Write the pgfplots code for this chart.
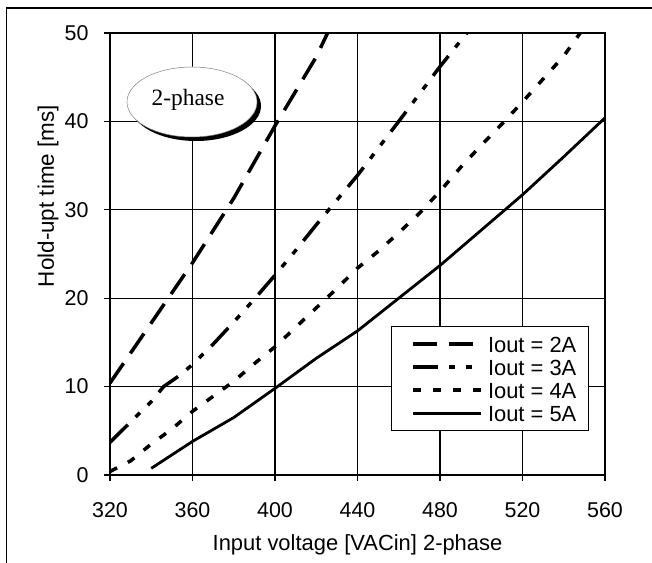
\documentclass[border=0pt]{standalone}
\usepackage{fontspec}
\setmainfont{Liberation Sans}
\newfontfamily\serifF{Liberation Serif}
\usepackage{pgfplots}
\pgfplotsset{compat=1.18}
\begin{document}
\begin{tikzpicture}[x=1bp,y=1bp]
\useasboundingbox (0,0) rectangle (652,563);
\draw[line width=1.3bp] (6.5,-5) -- (6.5,555) -- (660,555);
\begin{axis}[
 at={(110bp,88bp)}, anchor=south west,
 scale only axis, width=495bp, height=442bp,
 xmin=320, xmax=560, ymin=0, ymax=50,
 xtick={320,360,...,560}, ytick={0,10,...,50},
 grid=major, grid style={black, line width=1.2bp},
 axis line style={line width=1.7bp},
 tick align=outside, major tick length=6bp, tick pos=left,
 tick style={black, line width=1.3bp},
 /pgf/number format/assume math mode=true,
 /pgf/number format/1000 sep={},
 ticklabel style={font=\fontsize{21.5}{24}\selectfont},
 xticklabel style={yshift=-18bp},
 yticklabel style={xshift=-12bp},
 xlabel={Input voltage [VACin] 2-phase},
 ylabel={Hold-upt time [ms]},
 label style={font=\fontsize{22}{26}\selectfont},
 xlabel style={at={(axis description cs:0.5,-0.158)}, anchor=center},
 ylabel style={at={(axis description cs:-0.125,0.631)}, anchor=center, font=\fontsize{22.5}{26}\selectfont},
 legend image code/.code={\path (0bp,0bp) (81bp,0bp); \draw[#1] (8bp,0bp) -- (76bp,0bp);},
 legend style={at={(rel axis cs:0.9677,0.3371)}, anchor=north east,
   draw=black, line width=1.3bp, fill=white,
   inner xsep=12bp, inner ysep=9.5bp, row sep=7bp,
   font=\fontsize{22}{24}\selectfont,
   nodes={inner xsep=0bp, inner ysep=0bp, text height=16bp, text depth=0bp}},
 legend cell align=left,
]
\addplot[black, line width=3.5bp, dash pattern=on 24bp off 12bp] coordinates {
 (320,10.4) (340,17.2) (360,24) (380,31.3) (400,39.5) (420,47.3) (425.5,50)};
\addlegendentry{Iout = 2A}
\addplot[black, line width=3.5bp, dash pattern=on 25bp off 11bp on 6bp off 11bp on 6bp off 11bp] coordinates {
 (320,3.7) (330,6.0) (340,8.3) (346,10) (354,11.3) (360,12.5) (370,14.8) (380,17.3)
 (390,19.9) (400,22.6) (410,25.4) (420,28.3) (440,33.9) (460,40) (480,46.2) (493,50)};
\addlegendentry{Iout = 3A}
\addplot[black, line width=3.5bp, dash pattern=on 8bp off 12bp] coordinates {
 (320,0.4) (330,1.6) (340,3.5) (350,5.2) (360,7.2) (370,8.9) (380,10.6) (390,12.6)
 (400,14.5) (410,16.7) (420,18.9) (430,21.1) (440,23.4) (450,25.3) (460,27.4)
 (470,29.6) (480,32.1) (490,34.8) (500,37.3) (510,39.7) (520,42.2) (530,44.8)
 (540,47.4) (548,50)};
\addlegendentry{Iout = 4A}
\addplot[black, line width=2.8bp] coordinates {
 (340,0.75) (360,3.8) (380,6.5) (400,9.8) (420,13.2) (440,16.3) (460,20)
 (480,23.7) (500,27.7) (520,31.7) (540,36) (560,40.4)};
\addlegendentry{Iout = 5A}
\end{axis}
\fill[black] (196,457) ellipse [x radius=65, y radius=35];
\filldraw[fill=white, draw=gray, line width=0.5bp] (192,461) ellipse [x radius=65, y radius=35];
\node[font=\serifF\fontsize{23.5}{26}\selectfont] at (188,463) {2-phase};
\end{tikzpicture}
\end{document}
